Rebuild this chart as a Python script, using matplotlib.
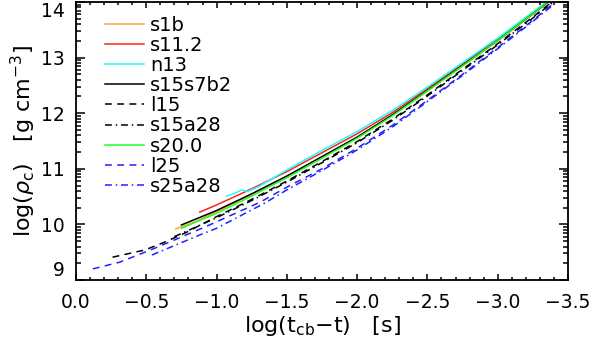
import matplotlib
matplotlib.use('Agg')
import matplotlib.pyplot as plt
import numpy as np
from matplotlib.ticker import MultipleLocator, FixedLocator

# series: x = log(t_cb - t), y = log(rho_c)
s1b_x = [-0.71, -0.85, -1.0, -1.25, -1.5, -1.75, -2.0, -2.25, -2.5, -2.75, -3.0, -3.25, -3.4]
s1b_y = [9.92, 10.05, 10.23, 10.54, 10.86, 11.21, 11.56, 11.96, 12.40, 12.85, 13.30, 13.78, 14.08]

s112_x = [-0.88, -1.0, -1.25, -1.5, -1.75, -2.0, -2.25, -2.5, -2.75, -3.0, -3.25, -3.4]
s112_y = [10.22, 10.35, 10.64, 10.95, 11.29, 11.63, 12.01, 12.44, 12.88, 13.33, 13.80, 14.09]

n13_x = [-1.07, -1.12, -1.18, -1.22, -1.3, -1.5, -1.75, -2.0, -2.25, -2.5, -2.75, -3.0, -3.25, -3.4]
n13_y = [10.51, 10.55, 10.62, 10.59, 10.68, 10.98, 11.33, 11.67, 12.05, 12.47, 12.91, 13.35, 13.82, 14.10]

s15s7b2_x = [-0.75, -1.0, -1.25, -1.5, -1.75, -2.0, -2.25, -2.5, -2.75, -3.0, -3.25, -3.4]
s15s7b2_y = [9.99, 10.25, 10.55, 10.87, 11.22, 11.57, 11.97, 12.41, 12.86, 13.31, 13.79, 14.08]

l15_x = [-0.26, -0.49, -0.63, -0.78, -1.0, -1.25, -1.5, -1.75, -2.0, -2.25, -2.5, -2.75, -3.0, -3.25, -3.4]
l15_y = [9.41, 9.54, 9.68, 9.85, 10.14, 10.45, 10.78, 11.13, 11.49, 11.89, 12.33, 12.79, 13.25, 13.73, 14.03]

s15a28_x = [-0.7, -1.0, -1.25, -1.5, -1.75, -2.0, -2.25, -2.5, -2.75, -3.0, -3.25, -3.4]
s15a28_y = [9.78, 10.12, 10.43, 10.76, 11.11, 11.47, 11.87, 12.31, 12.77, 13.23, 13.71, 14.01]

s200_x = [-0.75, -1.0, -1.25, -1.5, -1.75, -2.0, -2.25, -2.5, -2.75, -3.0, -3.25, -3.4]
s200_y = [9.93, 10.20, 10.51, 10.84, 11.19, 11.55, 11.95, 12.40, 12.85, 13.31, 13.79, 14.09]

l25_x = [-0.12, -0.31, -0.53, -0.70, -0.95, -1.31, -1.5, -1.75, -2.0, -2.25, -2.5, -2.75, -3.0, -3.25, -3.4]
l25_y = [9.20, 9.32, 9.54, 9.72, 9.99, 10.40, 10.67, 11.00, 11.37, 11.78, 12.23, 12.70, 13.18, 13.67, 13.98]

s25a28_x = [-0.54, -0.88, -1.0, -1.34, -1.5, -1.75, -2.0, -2.25, -2.5, -2.75, -3.0, -3.25, -3.4]
s25a28_y = [9.45, 9.81, 9.93, 10.38, 10.62, 10.97, 11.34, 11.75, 12.21, 12.68, 13.16, 13.65, 13.96]

x_ticks = [0.0, -0.5, -1.0, -1.5, -2.0, -2.5, -3.0, -3.5]
y_ticks = [9, 10, 11, 12, 13, 14]

plt.rcParams['font.family'] = ['DejaVu Sans']
plt.rcParams['font.size'] = 13.5

fig = plt.figure(figsize=(5.94, 3.47), dpi=100)
ax = fig.add_axes([76/594., 1 - 280/347., (568 - 76)/594., (280 - 2)/347.])

dash = (0, (4.5, 3.5))
dashdot = (0, (4.5, 2.5, 1, 2.5))
ax.plot(s1b_x, s1b_y, color='#ffa040', lw=1.1, label='s1b')
ax.plot(s112_x, s112_y, color='#ff2020', lw=1.1, label='s11.2')
ax.plot(n13_x, n13_y, color='#20ffff', lw=1.1, label='n13')
ax.plot(s15s7b2_x, s15s7b2_y, color='black', lw=1.1, label='s15s7b2')
ax.plot(l15_x, l15_y, color='black', lw=1.1, ls=dash, label='l15')
ax.plot(s15a28_x, s15a28_y, color='black', lw=1.1, ls=dashdot, label='s15a28')
ax.plot(s200_x, s200_y, color='#20ff20', lw=1.1, label='s20.0')
ax.plot(l25_x, l25_y, color='#2020ff', lw=1.1, ls=dash, label='l25')
ax.plot(s25a28_x, s25a28_y, color='#2020ff', lw=1.1, ls=dashdot, label='s25a28')

ax.set_xlim(0.0, -3.5)
ax.set_ylim(9.0, 14.0)

ax.set_xticks(x_ticks)
ax.set_xticklabels(['%.1f' % v if v == 0 else '\u2212%.1f' % abs(v) for v in x_ticks])
ax.xaxis.set_minor_locator(MultipleLocator(0.1))
ax.set_yticks(y_ticks)
ax.set_yticklabels([str(v) for v in y_ticks])
minor_y = [d + np.log10(k) for d in range(8, 15) for k in range(2, 10)]
ax.yaxis.set_minor_locator(FixedLocator([m for m in minor_y if 9 <= m <= 14]))

# IDL keeps the end labels inside the axis range
ylabs = ax.get_yticklabels()
ylabs[0].set_verticalalignment('bottom')
ylabs[-1].set_verticalalignment('top')

for s in ax.spines.values():
    s.set_linewidth(1.3)
ax.tick_params(axis='both', which='both', direction='in', top=True, right=True, width=1.1)
ax.tick_params(axis='x', which='major', length=4.5, pad=9)
ax.tick_params(axis='x', which='minor', length=2.2)
ax.tick_params(axis='y', which='major', length=6.5, pad=8)
ax.tick_params(axis='y', which='minor', length=3.6)

ax.set_xlabel(r'log(t$_{\rm cb}$$-$t)   [s]', fontsize=16, labelpad=2)
ax.set_ylabel(r'log($\rho_{\rm c}$)   [g cm$^{-3}$]', fontsize=16, labelpad=2)

leg = ax.legend(loc='upper left', bbox_to_anchor=(0.032, 1.0), frameon=False,
                handlelength=2.0, handletextpad=0.3, labelspacing=0.06,
                borderaxespad=0.3, fontsize=14)

fig.savefig('out.png', dpi=100)
